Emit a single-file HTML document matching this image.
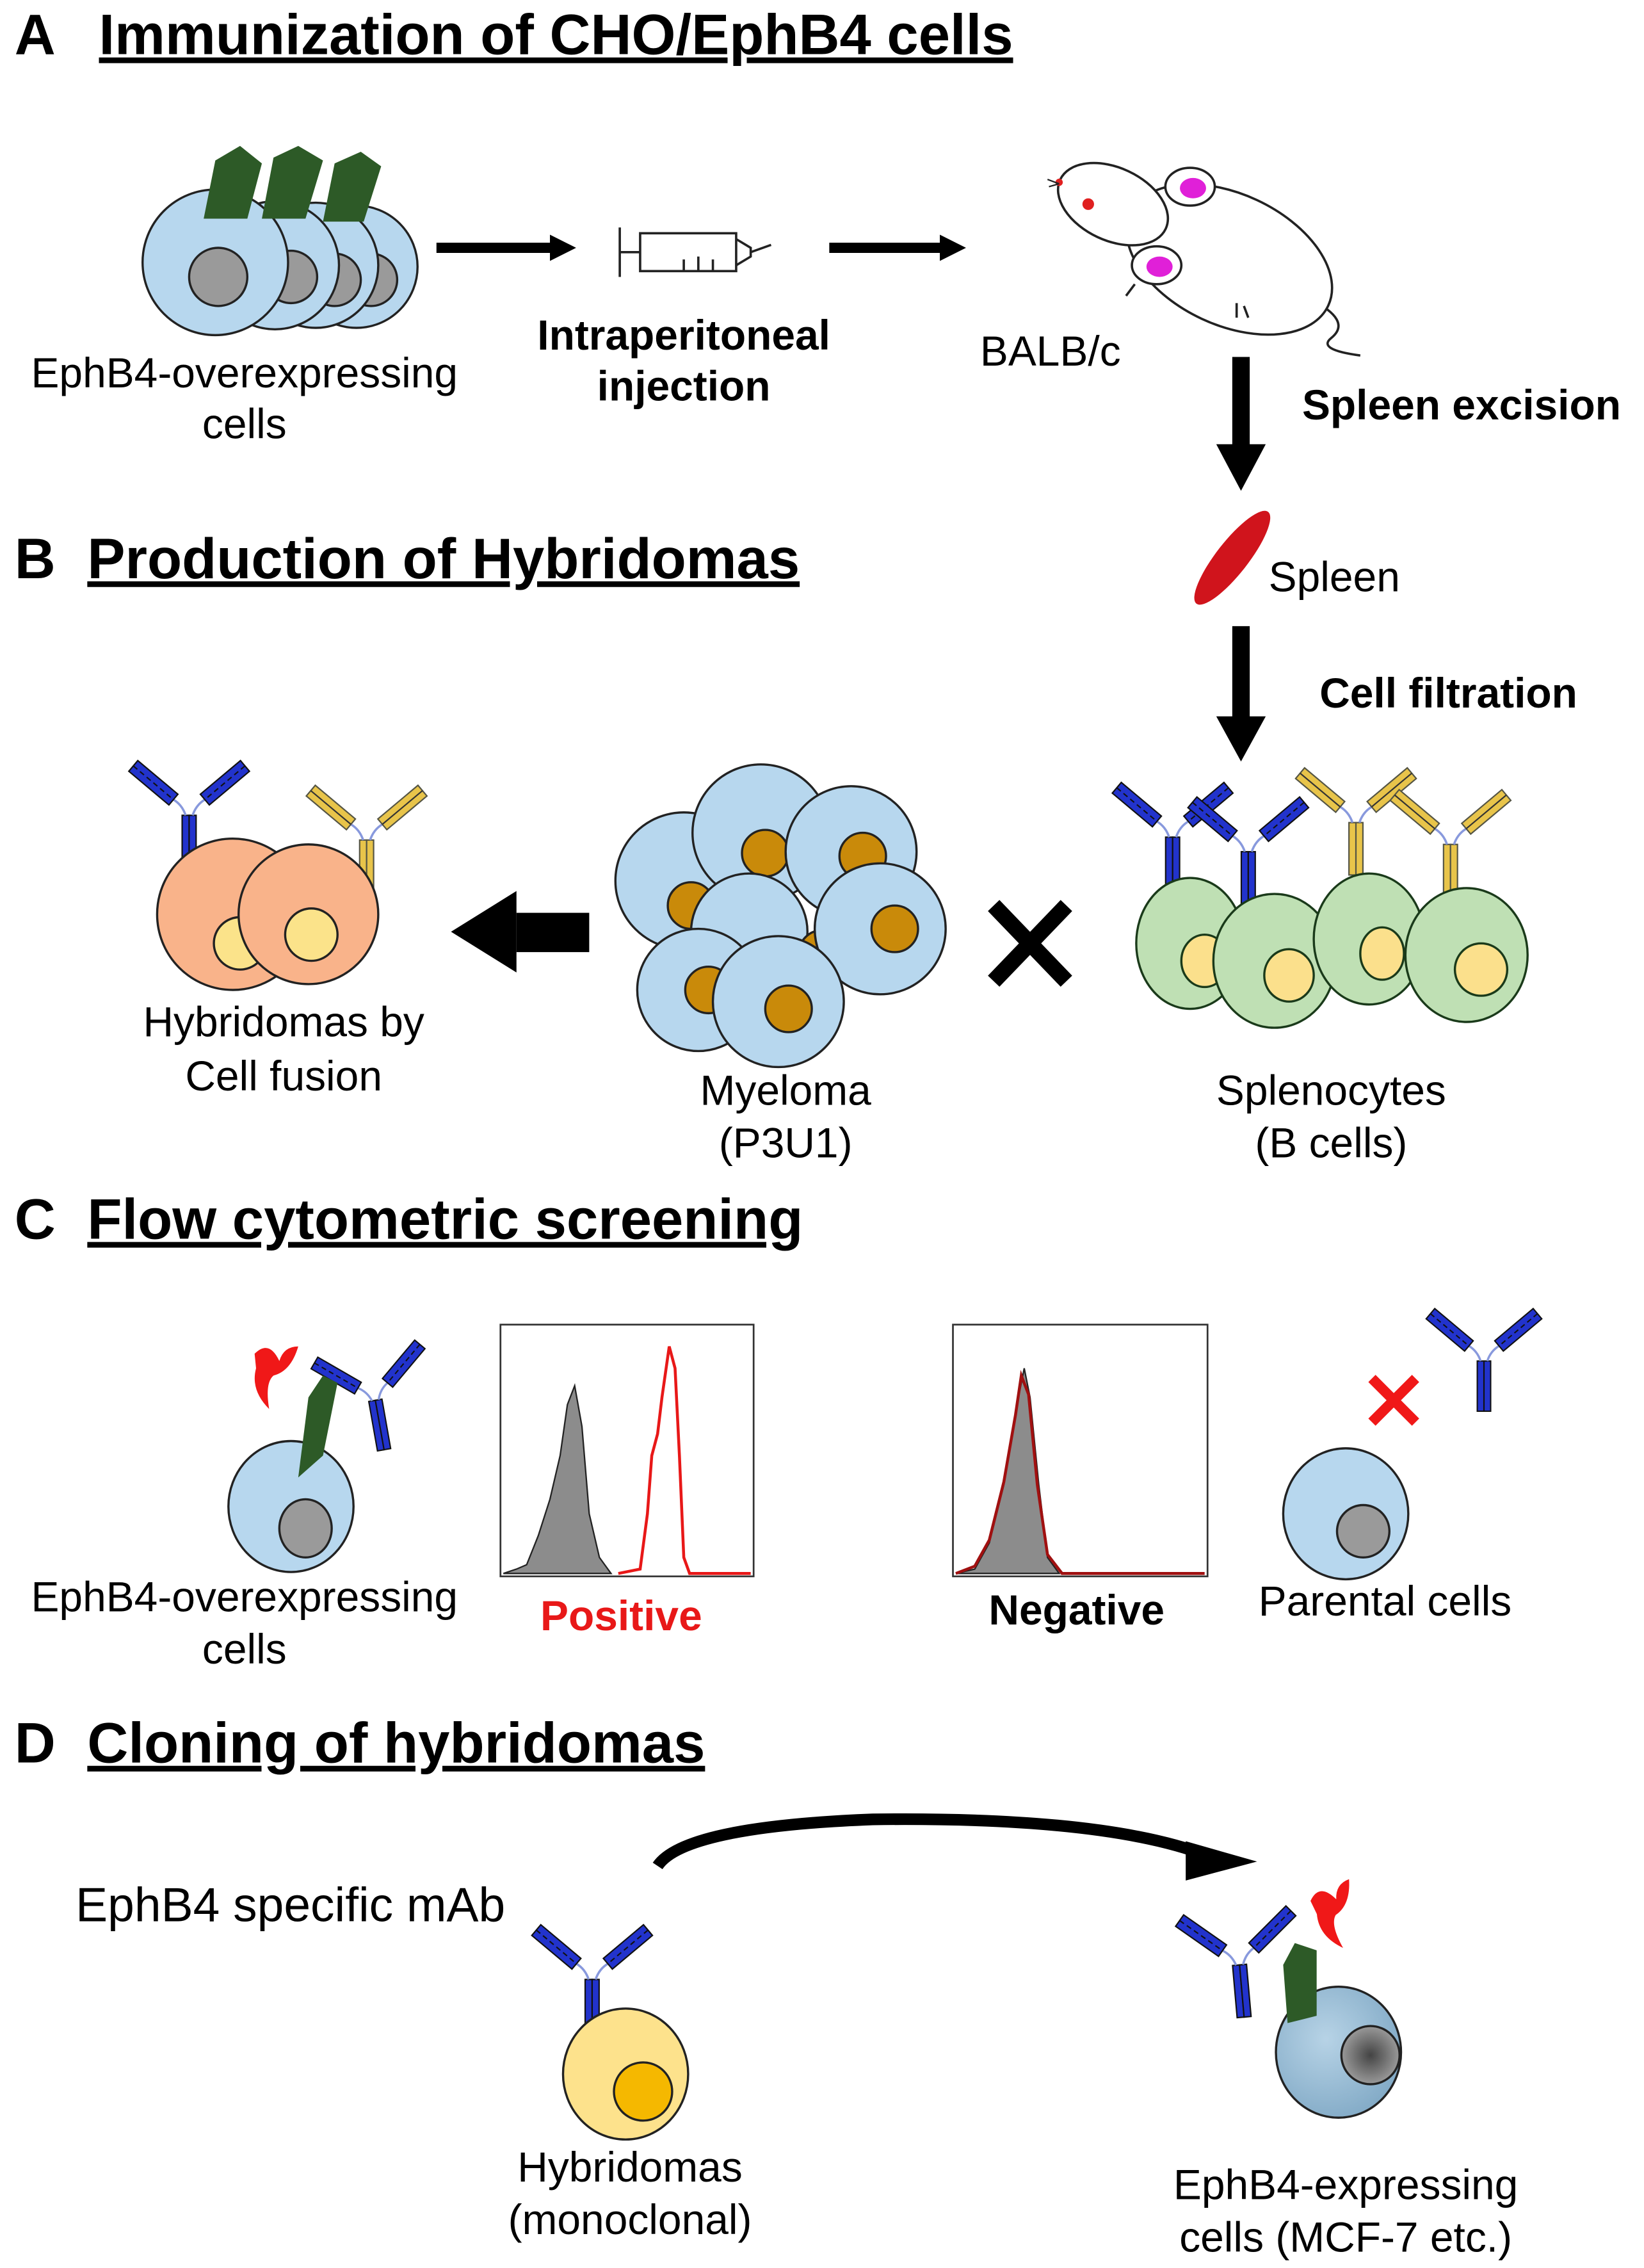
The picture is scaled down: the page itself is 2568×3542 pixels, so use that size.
<!DOCTYPE html>
<html><head><meta charset="utf-8"><style>
html,body{margin:0;padding:0;background:#fff}
svg{display:block}
text{font-family:"Liberation Sans",Arial,sans-serif}
</style></head><body>
<svg width="2568" height="3542" viewBox="0 0 1130 1558" xmlns="http://www.w3.org/2000/svg">
<defs>
<g id="abB">
 <rect x="-4" y="0" width="4" height="30" fill="#2233cc" stroke="#111" stroke-width="0.8"/>
 <rect x="0" y="0" width="4" height="30" fill="#2233cc" stroke="#111" stroke-width="0.8"/>
 <path d="M-2 0 Q-4 -6 -9 -9 M2 0 Q4 -6 9 -9" stroke="#8899dd" stroke-width="1.3" fill="none"/>
 <g transform="translate(-9,-9) rotate(-50)"><rect x="-4" y="-30" width="8" height="30" fill="#2233cc" stroke="#111" stroke-width="0.8"/><line x1="0" y1="-30" x2="0" y2="0" stroke="#111" stroke-width="0.8" stroke-dasharray="3 2"/></g>
 <g transform="translate(9,-9) rotate(50)"><rect x="-4" y="-30" width="8" height="30" fill="#2233cc" stroke="#111" stroke-width="0.8"/><line x1="0" y1="-30" x2="0" y2="0" stroke="#111" stroke-width="0.8" stroke-dasharray="3 2"/></g>
</g>
<g id="abY">
 <rect x="-4" y="0" width="4" height="30" fill="#e8c44a" stroke="#554" stroke-width="0.8"/>
 <rect x="0" y="0" width="4" height="30" fill="#e8c44a" stroke="#554" stroke-width="0.8"/>
 <path d="M-2 0 Q-4 -6 -9 -9 M2 0 Q4 -6 9 -9" stroke="#8899dd" stroke-width="1.3" fill="none"/>
 <g transform="translate(-9,-9) rotate(-50)"><rect x="-4" y="-30" width="8" height="30" fill="#e8c44a" stroke="#554" stroke-width="0.8"/><line x1="0" y1="-30" x2="0" y2="0" stroke="#333" stroke-width="0.8"/></g>
 <g transform="translate(9,-9) rotate(50)"><rect x="-4" y="-30" width="8" height="30" fill="#e8c44a" stroke="#554" stroke-width="0.8"/><line x1="0" y1="-30" x2="0" y2="0" stroke="#333" stroke-width="0.8"/></g>
</g>
<radialGradient id="gb" cx="0.4" cy="0.4" r="0.7"><stop offset="0" stop-color="#b7d3e6"/><stop offset="1" stop-color="#7ea7c4"/></radialGradient>
<radialGradient id="gn" cx="0.5" cy="0.5" r="0.6"><stop offset="0" stop-color="#444"/><stop offset="1" stop-color="#aaa"/></radialGradient>
</defs>

<!-- Titles -->
<g font-weight="bold" font-size="39">
<text x="10" y="37">A</text><text x="68" y="37" text-decoration="underline">Immunization of CHO/EphB4 cells</text>
<text x="10" y="397">B</text><text x="60" y="397" text-decoration="underline">Production of Hybridomas</text>
<text x="10" y="851">C</text><text x="60" y="851" text-decoration="underline">Flow cytometric screening</text>
<text x="10" y="1211">D</text><text x="60" y="1211" text-decoration="underline">Cloning of hybridomas</text>
</g>

<!-- A cells -->
<g stroke="#222" stroke-width="1.5">
<circle cx="245" cy="183" r="42" fill="#b7d7ee"/><circle cx="255" cy="192" r="18" fill="#9a9a9a"/>
<circle cx="217" cy="182" r="43" fill="#b7d7ee"/><circle cx="230" cy="192" r="18" fill="#9a9a9a"/>
<circle cx="189" cy="182" r="44" fill="#b7d7ee"/><circle cx="200" cy="190" r="18" fill="#9a9a9a"/>
<circle cx="148" cy="180" r="50" fill="#b7d7ee"/><circle cx="150" cy="190" r="20" fill="#9a9a9a"/>
</g>
<g fill="#2d5a27">
<path d="M140 150 L148 110 L165 100 L180 112 L170 150 Z"/>
<path d="M180 150 L188 108 L205 100 L222 110 L210 150 Z"/>
<path d="M222 152 L230 112 L248 104 L262 114 L250 152 Z"/>
</g>
<text x="168" y="266" font-size="29" text-anchor="middle">EphB4-overexpressing</text>
<text x="168" y="301" font-size="29" text-anchor="middle">cells</text>

<!-- arrows A -->
<line x1="300" y1="170" x2="380" y2="170" stroke="#000" stroke-width="7"/>
<polygon points="378,161 396,170 378,179" fill="#000"/>
<line x1="570" y1="170" x2="648" y2="170" stroke="#000" stroke-width="7"/>
<polygon points="646,161 664,170 646,179" fill="#000"/>
<!-- syringe -->
<g stroke="#222" stroke-width="1.6" fill="none">
<line x1="426" y1="156" x2="426" y2="190"/>
<line x1="426" y1="173" x2="440" y2="173"/>
<rect x="440" y="160" width="66" height="26"/>
<path d="M506 164 L516 170 L516 176 L506 182"/>
<line x1="516" y1="173" x2="530" y2="168"/>
<line x1="470" y1="178" x2="470" y2="186"/><line x1="480" y1="176" x2="480" y2="186"/><line x1="490" y1="178" x2="490" y2="186"/>
</g>
<text x="470" y="240" font-size="29" font-weight="bold" text-anchor="middle">Intraperitoneal</text>
<text x="470" y="275" font-size="29" font-weight="bold" text-anchor="middle">injection</text>

<!-- mouse -->
<g stroke="#222" stroke-width="1.6">
<path d="M900 205 Q930 220 915 232 Q905 240 935 244" fill="none"/>
<ellipse cx="845" cy="178" rx="75" ry="45" transform="rotate(25 845 178)" fill="#fff"/>
<ellipse cx="765" cy="140" rx="40" ry="25" transform="rotate(25 765 140)" fill="#fff"/>
<ellipse cx="818" cy="128" rx="17" ry="13" fill="#fff"/><ellipse cx="820" cy="129" rx="9" ry="7" fill="#e020d8" stroke="none"/>
<ellipse cx="795" cy="182" rx="17" ry="13" fill="#fff"/><ellipse cx="797" cy="183" rx="9" ry="7" fill="#e020d8" stroke="none"/>
<path d="M780 195 l-6 8 M850 208 l0 10 M855 210 l3 8" fill="none"/>
</g>
<circle cx="748" cy="140" r="4" fill="#e02020"/>
<circle cx="728" cy="125" r="2.5" fill="#e02020"/>
<path d="M728 126 l-8 -3 M728 126 l-7 2" stroke="#222" stroke-width="1"/>
<text x="722" y="251" font-size="29" text-anchor="middle">BALB/c</text>

<!-- down arrows -->
<rect x="847" y="245" width="12" height="62" fill="#000"/>
<polygon points="836,305 870,305 853,337" fill="#000"/>
<text x="895" y="288" font-size="29" font-weight="bold">Spleen excision</text>
<ellipse cx="847" cy="383" rx="11" ry="40" transform="rotate(38 847 383)" fill="#d0141c"/>
<text x="872" y="406" font-size="29">Spleen</text>
<rect x="847" y="430" width="12" height="64" fill="#000"/>
<polygon points="836,492 870,492 853,523" fill="#000"/>
<text x="907" y="486" font-size="29" font-weight="bold">Cell filtration</text>

<!-- hybridomas -->
<use href="#abB" transform="translate(130,560) scale(1.2)"/>
<use href="#abY" transform="translate(252,577) scale(1.2)"/>
<g stroke="#222" stroke-width="1.5">
<circle cx="160" cy="628" r="52" fill="#f9b38a"/><circle cx="165" cy="648" r="18" fill="#fbe38a"/>
<circle cx="212" cy="628" r="48" fill="#f9b38a"/><circle cx="214" cy="642" r="18" fill="#fbe38a"/>
</g>
<text x="195" y="712" font-size="29" text-anchor="middle">Hybridomas by</text>
<text x="195" y="749" font-size="29" text-anchor="middle">Cell fusion</text>
<!-- left arrow -->
<rect x="355" y="627" width="50" height="27" fill="#000"/>
<polygon points="355,612 310,640 355,668" fill="#000"/>

<!-- myeloma -->
<g stroke="#222" stroke-width="1.5">
<circle cx="470" cy="605" r="47" fill="#b7d7ee"/><circle cx="475" cy="622" r="16" fill="#c98a0a"/>
<circle cx="523" cy="572" r="47" fill="#b7d7ee"/><circle cx="526" cy="586" r="16" fill="#c98a0a"/>
<circle cx="585" cy="585" r="45" fill="#b7d7ee"/><circle cx="593" cy="588" r="16" fill="#c98a0a"/>
<circle cx="515" cy="640" r="40" fill="#b7d7ee"/><circle cx="565" cy="655" r="16" fill="#c98a0a"/>
<circle cx="605" cy="638" r="45" fill="#b7d7ee"/><circle cx="615" cy="638" r="16" fill="#c98a0a"/>
<circle cx="480" cy="680" r="42" fill="#b7d7ee"/><circle cx="487" cy="680" r="16" fill="#c98a0a"/>
<circle cx="535" cy="688" r="45" fill="#b7d7ee"/><circle cx="542" cy="693" r="16" fill="#c98a0a"/>
</g>
<text x="540" y="759" font-size="29" text-anchor="middle">Myeloma</text>
<text x="540" y="795" font-size="29" text-anchor="middle">(P3U1)</text>
<!-- X -->
<path d="M683 622 L733 674 M733 622 L683 674" stroke="#000" stroke-width="11"/>

<!-- splenocytes -->
<use href="#abB" transform="translate(806,575) scale(1.2)"/>
<use href="#abB" transform="translate(858,585) scale(1.2)"/>
<use href="#abY" transform="translate(932,565) scale(1.2)"/>
<use href="#abY" transform="translate(997,580) scale(1.2)"/>
<g stroke="#1a3a1a" stroke-width="1.5">
<ellipse cx="818" cy="648" rx="37" ry="45" fill="#bfe0b4"/><ellipse cx="828" cy="660" rx="16" ry="18" fill="#fbe08c"/>
<ellipse cx="876" cy="660" rx="42" ry="46" fill="#bfe0b4"/><ellipse cx="886" cy="670" rx="17" ry="18" fill="#fbe08c"/>
<ellipse cx="941" cy="645" rx="38" ry="45" fill="#bfe0b4"/><ellipse cx="950" cy="655" rx="15" ry="18" fill="#fbe08c"/>
<ellipse cx="1008" cy="656" rx="42" ry="46" fill="#bfe0b4"/><ellipse cx="1018" cy="666" rx="18" ry="18" fill="#fbe08c"/>
</g>
<text x="915" y="759" font-size="29" text-anchor="middle">Splenocytes</text>
<text x="915" y="795" font-size="29" text-anchor="middle">(B cells)</text>

<!-- C -->
<use href="#abB" transform="translate(258,962) rotate(-10) scale(1.15)"/>
<g stroke="#222" stroke-width="1.5">
<ellipse cx="200" cy="1035" rx="43" ry="45" fill="#b7d7ee"/><ellipse cx="210" cy="1050" rx="18" ry="20" fill="#9a9a9a"/>
</g>
<path d="M205 1015 L212 960 L222 945 L232 950 L222 1000 Z" fill="#2d5a27"/>
<path d="M175 930 Q185 920 192 935 Q195 925 205 925 Q200 942 188 945 Q182 950 185 968 Q172 955 176 940 Z" fill="#f01818"/>
<text x="168" y="1107" font-size="29" text-anchor="middle">EphB4-overexpressing</text>
<text x="168" y="1143" font-size="29" text-anchor="middle">cells</text>

<rect x="344" y="910" width="174" height="173" fill="none" stroke="#333" stroke-width="1.2"/>
<path d="M346 1081 L355 1078 L362 1075 L370 1055 L378 1030 L385 1000 L390 965 L395 952 L400 980 L405 1040 L412 1070 L420 1081 Z" fill="#8c8c8c" stroke="#222" stroke-width="1"/>
<path d="M425 1081 L440 1078 L445 1040 L448 1000 L452 985 L455 960 L460 925 L464 940 L467 1000 L470 1070 L474 1081 L516 1081" fill="none" stroke="#e81818" stroke-width="2"/>
<text x="427" y="1120" font-size="29" font-weight="bold" fill="#e81818" text-anchor="middle">Positive</text>

<rect x="655" y="910" width="175" height="173" fill="none" stroke="#333" stroke-width="1.2"/>
<path d="M657 1081 L670 1078 L680 1060 L690 1020 L698 970 L704 940 L708 960 L714 1020 L720 1070 L728 1081 Z" fill="#8c8c8c" stroke="#222" stroke-width="1"/>
<path d="M657 1081 L670 1076 L680 1058 L690 1018 L698 972 L702 945 L707 958 L713 1020 L720 1068 L730 1081 L828 1081" fill="none" stroke="#a01010" stroke-width="2"/>
<text x="740" y="1116" font-size="29" font-weight="bold" text-anchor="middle">Negative</text>

<g stroke="#222" stroke-width="1.5">
<ellipse cx="925" cy="1040" rx="43" ry="45" fill="#b7d7ee"/><circle cx="937" cy="1052" r="18" fill="#9a9a9a"/>
</g>
<path d="M943 947 L973 977 M973 947 L943 977" stroke="#f01818" stroke-width="7"/>
<use href="#abB" transform="translate(1020,935) scale(1.15)"/>
<text x="952" y="1110" font-size="29" text-anchor="middle">Parental cells</text>

<!-- D -->
<path d="M452 1282 Q470 1255 600 1250 Q760 1248 830 1275" fill="none" stroke="#000" stroke-width="8"/>
<polygon points="815,1265 864,1279 815,1292" fill="#000"/>
<text x="52" y="1320" font-size="33">EphB4 specific mAb</text>
<use href="#abB" transform="translate(407,1360) scale(1.2)"/>
<g stroke="#222" stroke-width="1.5">
<ellipse cx="430" cy="1425" rx="43" ry="45" fill="#fde28c"/><circle cx="442" cy="1437" r="20" fill="#f5b800"/>
</g>
<text x="433" y="1499" font-size="29" text-anchor="middle">Hybridomas</text>
<text x="433" y="1535" font-size="29" text-anchor="middle">(monoclonal)</text>

<use href="#abB" transform="translate(852,1350) rotate(-5) scale(1.2)"/>
<g stroke="#222" stroke-width="1.5">
<ellipse cx="920" cy="1410" rx="43" ry="45" fill="url(#gb)"/><circle cx="942" cy="1412" r="20" fill="url(#gn)"/>
</g>
<path d="M885 1390 L882 1350 L890 1335 L905 1340 L905 1385 Z" fill="#2d5a27"/>
<path d="M905 1300 Q915 1290 922 1305 Q925 1295 935 1295 Q930 1312 918 1315 Q912 1320 915 1338 Q902 1325 906 1310 Z" fill="#f01818" transform="rotate(-20 920 1315)"/>
<text x="925" y="1511" font-size="29" text-anchor="middle">EphB4-expressing</text>
<text x="925" y="1547" font-size="29" text-anchor="middle">cells (MCF-7 etc.)</text>
</svg>
</body></html>
